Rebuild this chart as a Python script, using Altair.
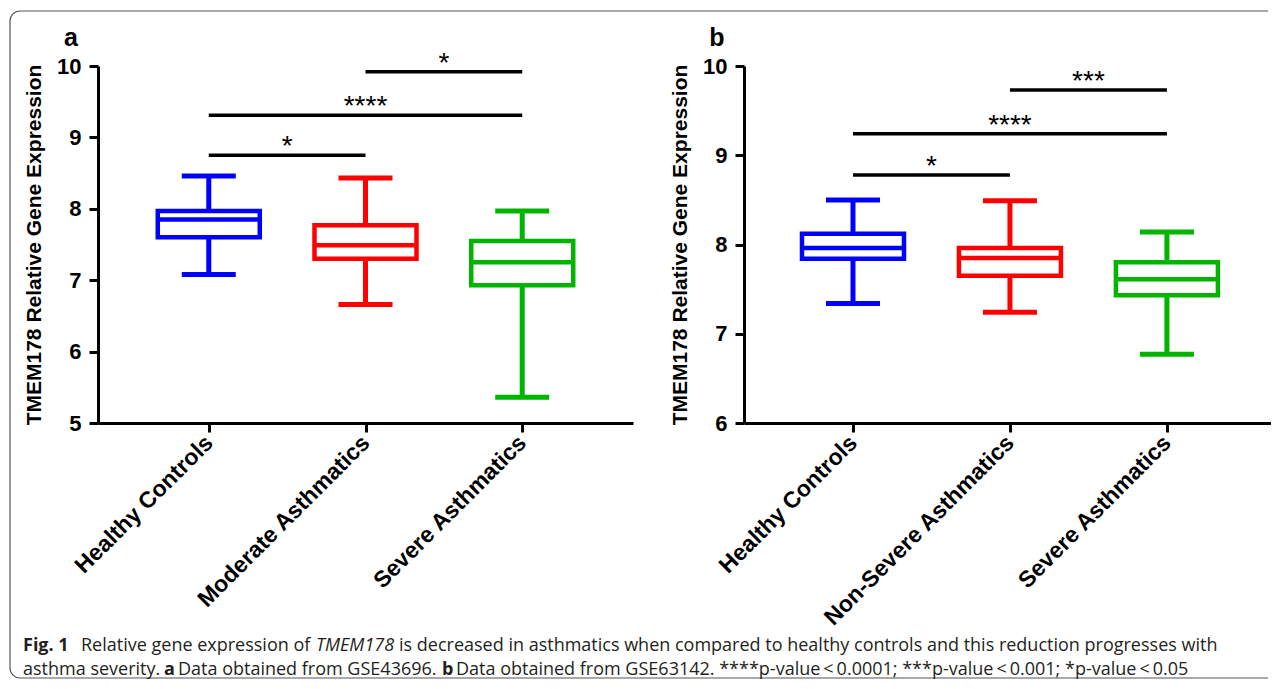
import json
import altair as alt
import pandas as pd

# ---------------- data ----------------
cats_a = ["Healthy Controls", "Moderate Asthmatics", "Severe Asthmatics"]
cats_b = ["Healthy Controls", "Non-Severe Asthmatics", "Severe Asthmatics"]
box_colors = ["#0000FF", "#FF0000", "#00B400"]

a_min = [7.08, 6.66, 5.36]
a_q1 = [7.60, 7.30, 6.93]
a_med = [7.85, 7.49, 7.25]
a_q3 = [7.97, 7.77, 7.55]
a_max = [8.46, 8.43, 7.97]

b_min = [7.34, 7.24, 6.77]
b_q1 = [7.84, 7.65, 7.43]
b_med = [7.96, 7.85, 7.61]
b_q3 = [8.12, 7.96, 7.80]
b_max = [8.50, 8.49, 8.14]

a_sig_from = [0, 0, 1]
a_sig_to = [1, 2, 2]
a_sig_y = [8.75, 9.31, 9.92]
a_sig_lab = ["*", "****", "*"]

b_sig_from = [0, 0, 1]
b_sig_to = [1, 2, 2]
b_sig_y = [8.78, 9.24, 9.73]
b_sig_lab = ["*", "****", "***"]

y_title = "TMEM178 Relative Gene Expression"

cap1 = [("Fig. 1", "bold", "normal", -75),
        ("Relative gene expression of", "normal", "normal", -17),
        ("TMEM178", "normal", "italic", 218),
        ("is decreased in asthmatics when compared to healthy controls and this reduction progresses with",
         "normal", "normal", 301)]
cap2 = [("asthma severity.", "normal", "normal", -75),
        ("a", "bold", "normal", 66),
        ("Data obtained from GSE43696.", "normal", "normal", 80),
        ("b", "bold", "normal", 344),
        ("Data obtained from GSE63142. ****p-value\u2009<\u20090.0001; ***p-value\u2009<\u20090.001; *p-value\u2009<\u20090.05",
         "normal", "normal", 358)]

FONT = "Liberation Sans"
CAPFONT = "Open Sans"
H = 357


def panel(cats, mins, q1s, meds, q3s, maxs, sf, st, sy, sl, ydom, xdom, letter):
    box = pd.DataFrame({"idx": [0, 1, 2], "cat": cats, "col": box_colors, "lo": mins,
                        "q1": q1s, "med": meds, "q3": q3s, "hi": maxs})
    sig = pd.DataFrame({"f": sf, "t": st, "y": sy, "lab": sl})
    sig["mid"] = (sig["f"] + sig["t"]) / 2.0

    lbl = "%s[datum.value]" % json.dumps(cats)
    xaxis = alt.Axis(values=[0, 1, 2], labelExpr=lbl, title=None, labelAngle=-45,
                     labelAlign="right", labelBaseline="middle", labelPadding=7,
                     labelLimit=500, labelOverlap=False, labelFontSize=23)
    yaxis = alt.Axis(values=list(range(ydom[0], ydom[1] + 1)), format="d", title=y_title,
                     titlePadding=12, labelPadding=8, labelOverlap=False)
    xs = alt.Scale(domain=xdom, nice=False, zero=False)
    ys = alt.Scale(domain=ydom, nice=False, zero=False)

    def X(f):
        return alt.X(f + ":Q", scale=xs, axis=xaxis)

    def Y(f):
        return alt.Y(f + ":Q", scale=ys, axis=yaxis)

    col = alt.Color("col:N", scale=None)
    base = alt.Chart(box)
    w_lo = base.mark_rule(strokeWidth=5, opacity=1).encode(x=X("idx"), y=Y("lo"), y2="q1", color=col)
    w_hi = base.mark_rule(strokeWidth=5, opacity=1).encode(x=X("idx"), y=Y("q3"), y2="hi", color=col)
    cap_lo = base.mark_tick(orient="horizontal", size=54, thickness=5, opacity=1).encode(
        x=X("idx"), y=Y("lo"), color=col)
    cap_hi = base.mark_tick(orient="horizontal", size=54, thickness=5, opacity=1).encode(
        x=X("idx"), y=Y("hi"), color=col)
    bx = base.mark_bar(size=102, fill="white", strokeWidth=4.5, orient="vertical",
                       opacity=1).encode(
        x=X("idx"), y=Y("q1"), y2="q3", stroke=alt.Stroke("col:N", scale=None))
    md = base.mark_tick(orient="horizontal", size=102, thickness=4.5, opacity=1).encode(
        x=X("idx"), y=Y("med"), color=col)

    sb = alt.Chart(sig)
    sig_r = sb.mark_rule(strokeWidth=3.5, color="black").encode(x=X("f"), x2="t", y=Y("y"))
    sig_t = sb.mark_text(font=FONT, fontSize=28, color="black", baseline="middle", dy=-8).encode(
        x=X("mid"), y=Y("y"), text="lab:N")

    one = pd.DataFrame({"k": [0]})
    let = alt.Chart(one).mark_text(text=letter, font=FONT, fontSize=25, fontWeight="bold",
                                   align="center", baseline="middle", color="black").encode(
        x=alt.value(-27), y=alt.value(-28))

    return [w_lo, w_hi, cap_lo, cap_hi, bx, md, sig_r, sig_t, let]


layers_a = panel(cats_a, a_min, a_q1, a_med, a_q3, a_max, a_sig_from, a_sig_to, a_sig_y,
                 a_sig_lab, [5, 10], [-0.675, 2.675], "a")
layers_b = panel(cats_b, b_min, b_q1, b_med, b_q3, b_max, b_sig_from, b_sig_to, b_sig_y,
                 b_sig_lab, [6, 10], [-0.6625, 2.63125], "b")

# border and caption drawn in panel a's coordinate frame
one = pd.DataFrame({"k": [0]})
bx0, bx1, by0, by1, rad = -88, 1170, -55, 612, 10
bw, bh = bx1 - bx0, by1 - by0
border = alt.Chart(one).mark_rect(
    fillOpacity=0, stroke="#555555", strokeWidth=1.2,
    cornerRadiusTopLeft=rad, cornerRadiusBottomLeft=rad,
    cornerRadiusTopRight=0, cornerRadiusBottomRight=0,
    strokeDash=[bw - rad, bh, 5000, 0]).encode(
    x=alt.value(bx0), x2=alt.value(bx1), y=alt.value(by0), y2=alt.value(by1))

cap_layers = []
for line, yy in ((cap1, 580), (cap2, 604)):
    for txt, wt, st_, xx in line:
        cap_layers.append(
            alt.Chart(one).mark_text(text=txt, font=CAPFONT, fontSize=18, fontWeight=wt,
                                     fontStyle=st_, align="left", baseline="middle",
                                     color="#231F20").encode(
                x=alt.value(xx), y=alt.value(yy)))

chart_a = alt.layer(border, *layers_a, *cap_layers).properties(width=535, height=H)
chart_b = alt.layer(*layers_b).properties(width=527, height=H)

chart = alt.hconcat(chart_a, chart_b, spacing=111, bounds="flush").properties(
    padding={"left": 1, "top": 2, "right": 0, "bottom": 0}
).configure_view(stroke=None).configure_axis(
    grid=False, domainColor="black", domainWidth=3, tickColor="black", tickWidth=3,
    tickSize=9, labelFont=FONT, labelFontWeight="bold", labelFontSize=22, labelColor="black",
    titleFont=FONT, titleFontWeight="bold", titleFontSize=21, titleColor="black"
)

chart.save("out.html", embed_options={"renderer": "svg", "actions": False})
